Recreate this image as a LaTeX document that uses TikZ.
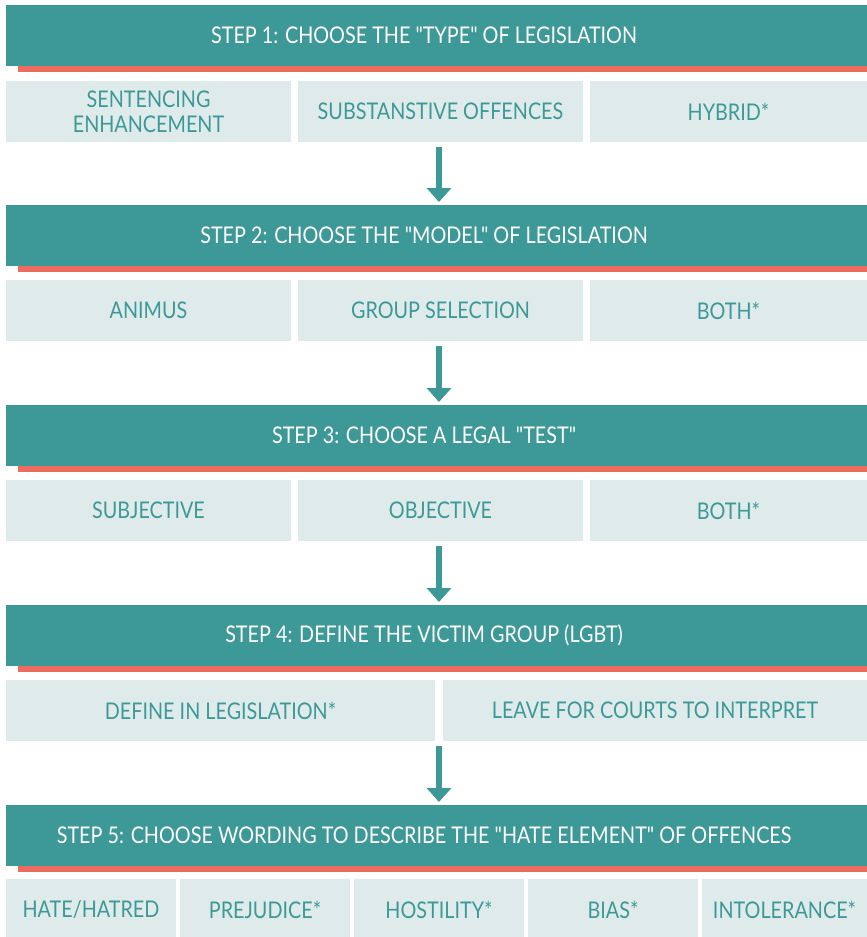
\documentclass[tikz,border=0pt]{standalone}
\usepackage{fontspec}
\setmainfont[FakeStretch=0.86, Ligatures=TeXOff]{Lato}
\usetikzlibrary{arrows.meta}
\definecolor{tealA}{HTML}{3D9997}
\definecolor{coralA}{HTML}{EC6B5F}
\definecolor{paleA}{HTML}{DFEBEB}
\newcommand\hshift{\hspace*{-25pt}}
\begin{document}
\begin{tikzpicture}[x=1pt,y=-1pt,
  hdr/.style={fill=tealA, text=white, anchor=north west, inner sep=0pt, outer sep=0pt,
    minimum width=861pt, minimum height=61pt, font=\fontsize{23}{26}\selectfont},
  opt/.style={fill=paleA, text=tealA, anchor=north west, inner sep=0pt, outer sep=0pt,
    minimum height=61pt, align=center, font=\fontsize{23}{25}\selectfont},
  flowarrow/.style={draw=tealA, line width=6pt, -{Triangle[width=24pt,length=14pt]}, shorten <=5pt, shorten >=3pt}]
\useasboundingbox (0,0) rectangle (867,937);
\clip (0,0) rectangle (867,937);
\fill[white] (0,0) rectangle (867,937);
% bars
\foreach \t in {5,205,405,605,805}{
  \fill[coralA] (18,\t+61) rectangle (867,\t+67);
}
% step 1
\node[hdr] (h1) at (6,5) {\hshift STEP 1: CHOOSE THE "TYPE" OF LEGISLATION};
\node[opt, minimum width=285pt] (o1a) at (6,81) {SENTENCING\\ENHANCEMENT};
\node[opt, minimum width=285pt] (o1b) at (298,81) {SUBSTANSTIVE OFFENCES};
\node[opt, minimum width=277pt] (o1c) at (590,81) {HYBRID*};
% step 2
\node[hdr] (h2) at (6,205) {\hshift STEP 2: CHOOSE THE "MODEL" OF LEGISLATION};
\node[opt, minimum width=285pt] (o2a) at (6,280) {ANIMUS};
\node[opt, minimum width=285pt] (o2b) at (298,280) {GROUP SELECTION};
\node[opt, minimum width=277pt] (o2c) at (590,280) {BOTH*};
% step 3
\node[hdr] (h3) at (6,405) {\hshift STEP 3: CHOOSE A LEGAL "TEST"};
\node[opt, minimum width=285pt] (o3a) at (6,480) {SUBJECTIVE};
\node[opt, minimum width=285pt] (o3b) at (298,480) {OBJECTIVE};
\node[opt, minimum width=277pt] (o3c) at (590,480) {BOTH*};
% step 4
\node[hdr] (h4) at (6,605) {\hshift STEP 4: DEFINE THE VICTIM GROUP (LGBT)};
\node[opt, minimum width=429pt] (o4a) at (6,680) {DEFINE IN LEGISLATION*};
\node[opt, minimum width=424pt] (o4b) at (443,680) {LEAVE FOR COURTS TO INTERPRET};
% step 5
\node[hdr] (h5) at (6,805) {\hshift STEP 5: CHOOSE WORDING TO DESCRIBE THE "HATE ELEMENT" OF OFFENCES};
\node[opt, minimum width=170pt] (o5a) at (6,879) {HATE/HATRED};
\node[opt, minimum width=170pt] (o5b) at (180,879) {PREJUDICE*};
\node[opt, minimum width=170pt] (o5c) at (354,879) {HOSTILITY*};
\node[opt, minimum width=170pt] (o5d) at (528,879) {BIAS*};
\node[opt, minimum width=165pt] (o5e) at (702,879) {INTOLERANCE*};
% arrows
\coordinate (a1) at (439,142);
\coordinate (a2) at (439,341);
\coordinate (a3) at (439,541);
\coordinate (a4) at (439,741);
\draw[flowarrow] (a1) -- (a1 |- h2.north);
\draw[flowarrow] (a2) -- (a2 |- h3.north);
\draw[flowarrow] (a3) -- (a3 |- h4.north);
\draw[flowarrow] (a4) -- (a4 |- h5.north);
\end{tikzpicture}
\end{document}
